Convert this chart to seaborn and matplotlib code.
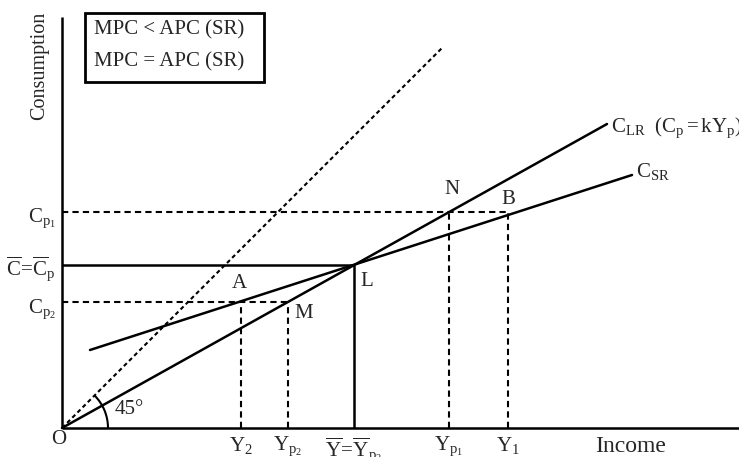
import matplotlib
matplotlib.use("Agg")
import pandas as pd
import seaborn as sns
import matplotlib.pyplot as plt
from matplotlib.patches import Arc, Rectangle

# income levels marked on the horizontal axis
income_pos = [179, 226, 292, 387, 446]
income_labels = [r'$\mathrm{Y}_{2}$',
                 r'$\mathrm{Y}_{\mathrm{p}_2}$',
                 r'$\overline{\mathrm{Y}}\!=\!\overline{\mathrm{Y}}_{\mathrm{p}_2}$',
                 r'$\mathrm{Y}_{\mathrm{p}_1}$',
                 r'$\mathrm{Y}_{1}$']

# consumption levels marked on the vertical axis
cons_pos = [126, 163, 216]
cons_labels = [r'$\mathrm{C}_{\mathrm{p}_2}$',
               r'$\overline{\mathrm{C}}\!=\!\overline{\mathrm{C}}_{\mathrm{p}}$',
               r'$\mathrm{C}_{\mathrm{p}_1}$']

# consumption functions and the 45 degree line
clr_x = [0, 545]
clr_y = [0, 304]
csr_x = [28, 570]
csr_y = [78, 253]
deg45_x = [0, 380]
deg45_y = [0, 380]

# named points
pt_names = ['A', 'M', 'L', 'N', 'B']
pt_x = [179, 226, 292, 387, 446]
pt_y = [126, 126, 163, 216, 216]

legend_lines = ['MPC < APC (SR)', 'MPC = APC (SR)']

sns.set_style('white')
plt.rcParams['font.family'] = ['Liberation Serif', 'DejaVu Serif']
plt.rcParams['mathtext.fontset'] = 'custom'
plt.rcParams['mathtext.rm'] = 'Liberation Serif'
plt.rcParams['mathtext.it'] = 'Liberation Serif:italic'

FS = 15
fig = plt.figure(figsize=(7.39, 4.57), dpi=100)
ax = fig.add_axes([0, 0, 1, 1])
ax.set_xlim(-62, 677)
ax.set_ylim(-29, 428)
ax.axis('off')

# axes
ax.plot([0, 677], [0, 0], color='black', lw=1.8, solid_capstyle='butt')
ax.plot([0, 0], [0, 411], color='black', lw=1.8, solid_capstyle='butt')

lines = pd.DataFrame({
    'x': clr_x + csr_x,
    'y': clr_y + csr_y,
    'curve': ['CLR'] * 2 + ['CSR'] * 2,
})
sns.lineplot(data=lines, x='x', y='y', units='curve', estimator=None,
             color='black', lw=1.8, sort=False, ax=ax)
sns.lineplot(x=deg45_x, y=deg45_y, color='black', lw=1.5, sort=False,
             dashes=False, ax=ax).lines[-1].set_dashes((2, 1.5))

dash_kw = dict(color='black', lw=1.5, linestyles=(0, (3, 2)))
# guides for A, M (C_p2) and N, B (C_p1)
ax.hlines(pt_y[0], 0, pt_x[1], **dash_kw)
ax.hlines(pt_y[3], 0, pt_x[4], **dash_kw)
for i in [0, 1, 3, 4]:
    ax.vlines(pt_x[i], 0, pt_y[i], **dash_kw)
# solid guides through L
ax.hlines(pt_y[2], 0, pt_x[2], color='black', lw=1.8)
ax.vlines(pt_x[2], 0, pt_y[2], color='black', lw=1.8)

# point labels
offsets = {'A': (-2, 19), 'M': (16, -11), 'L': (13, -16), 'N': (3, 22), 'B': (0, 12)}
for name, x, y in zip(pt_names, pt_x, pt_y):
    dx, dy = offsets[name]
    ax.text(x + dx, y + dy, name, fontsize=FS, ha='center', va='center')

# tick labels
for x, lab in zip(income_pos, income_labels):
    ax.text(x, -7, lab, fontsize=FS, ha='center', va='top')
cons_dy = [-7, -4, -6]
for y, lab, dy in zip(cons_pos, cons_labels, cons_dy):
    ax.text(-6, y + dy, lab, fontsize=FS, ha='right', va='center')

ax.text(-3, -12, 'O', fontsize=FS, ha='center', va='center')
ax.text(533, -19, 'Income', fontsize=17, ha='left', va='center')
ax.text(-22, 362, 'Consumption', fontsize=14.5, rotation=90,
        ha='center', va='center')

ax.text(549, 300, r'$\mathrm{C}_{\mathrm{LR}}\ \ (\mathrm{C}_{\mathrm{p}} = \mathrm{kY}_{\mathrm{p}})$',
        fontsize=FS, ha='left', va='center')
ax.text(574, 257, r'$\mathrm{C}_{\mathrm{SR}}$', fontsize=FS, ha='left', va='center')

# 45 degree arc
ax.add_patch(Arc((0, 0), 92, 92, theta1=0, theta2=45, color='black', lw=1.5))
ax.text(53, 18, '45°', fontsize=FS, ha='left', va='center')

# legend box
ax.add_patch(Rectangle((23, 346), 179, 69, fill=False, edgecolor='black', lw=2))
ax.text(32, 398, legend_lines[0], fontsize=FS, ha='left', va='center')
ax.text(32, 366, legend_lines[1], fontsize=FS, ha='left', va='center')

fig.savefig('out.png', dpi=100)
